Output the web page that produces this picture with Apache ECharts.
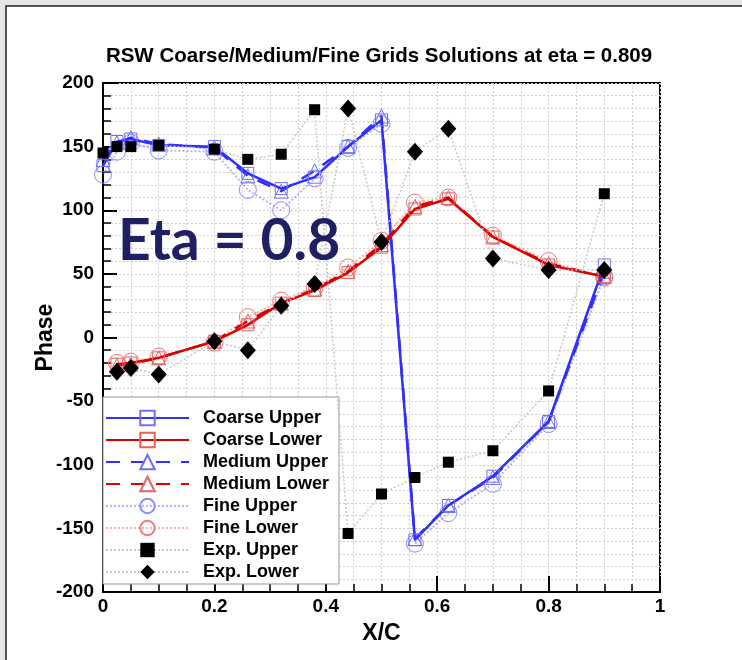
<!DOCTYPE html>
<html>
<head>
<meta charset="utf-8">
<script src="https://cdn.jsdelivr.net/npm/echarts@6/dist/echarts.min.js"></script>
<style>
  html, body { margin: 0; padding: 0; background: #e6e6e6; }
  #chart { width: 742px; height: 660px; }
</style>
</head>
<body>
<div id="chart"></div>
<script>
// Chordwise stations (X/C)
const xUpper = [0, 0.025, 0.05, 0.1, 0.2, 0.26, 0.32, 0.38, 0.44, 0.5, 0.56, 0.62, 0.7, 0.8, 0.9];
const xLower = [0.025, 0.05, 0.1, 0.2, 0.26, 0.32, 0.38, 0.44, 0.5, 0.56, 0.62, 0.7, 0.8, 0.9];

// Phase (deg) on upper / lower surfaces
const coarseUpper = [135, 154, 156, 151, 150, 129, 117, 126, 150, 171, -159, -132, -109, -66, 57];
const coarseLower = [-21, -20, -16, -3, 10, 27, 37, 51, 71, 101, 109, 79, 57, 48];
const mediumUpper = [140, 153, 157, 152, 149, 127, 115, 131, 150, 174, -158, -132, -110, -66, 52];
const mediumLower = [-22, -21, -16, -3, 13, 27, 38, 52, 73, 103, 110, 79, 58, 48];
const fineUpper = [128, 146, 153, 147, 146, 116, 100, 125, 149, 168, -162, -138, -115, -68, 48];
const fineLower = [-20, -19, -15, -4, 16, 29, 39, 55, 76, 106, 110, 80, 60, 47];
const expUpper = [145, 150, 150, 151, 148, 140, 144, 179, -154, -123, -110, -98, -89, -42, 113];
const expLower = [-27, -24, -29, -3, -10, 25, 42, 180, 75, 146, 164, 62, 53, 53];

const xTicks = [0, 0.2, 0.4, 0.6, 0.8, 1];
const yTicks = [-200, -150, -100, -50, 0, 50, 100, 150, 200];

const BLUE = '#2f2fff';
const RED = '#dd0000';
const FONT = '"Liberation Sans", Arial, Helvetica, sans-serif';

const pairs = (xs, ys) => xs.map((x, i) => [x, ys[i]]);

function solver(name, xs, ys, color, markColor, symbol, size, lineType, width, z) {
  return {
    name, type: 'line', data: pairs(xs, ys), z,
    symbol, symbolSize: size,
    lineStyle: { color, width, type: lineType },
    itemStyle: { color: 'rgba(255,255,255,0)', borderColor: markColor, borderWidth: 1 },
    emphasis: { disabled: true }
  };
}
function experiment(name, xs, ys, symbol, size) {
  return {
    name, type: 'line', data: pairs(xs, ys), z: 6,
    symbol, symbolSize: size,
    lineStyle: { color: '#c8c8c8', width: 1.5, type: [2, 2] },
    itemStyle: { color: '#000' },
    emphasis: { disabled: true }
  };
}

const chart = echarts.init(document.getElementById('chart'));
chart.setOption({
  animation: false,
  backgroundColor: '#e6e6e6',
  title: {
    text: 'RSW Coarse/Medium/Fine Grids Solutions at eta = 0.809',
    left: 374, top: 41, textAlign: 'center',
    textStyle: { fontFamily: FONT, fontSize: 20.5, fontWeight: 'bold', color: '#000' }
  },
  graphic: [
    { type: 'rect', z: -10, shape: { x: 6, y: 6, width: 800, height: 800 },
      style: { fill: '#fff', stroke: '#222', lineWidth: 1.5 } },
    { type: 'text', z: 100, left: 118, top: 213,
      style: { text: 'Eta = 0.8', fill: '#1f2063', font: 'bold 57px Lato, "Open Sans", sans-serif' } }
  ],
  grid: {
    left: 103, top: 83, right: 82, bottom: 68,
    show: true, borderColor: '#000', borderWidth: 2, backgroundColor: 'transparent'
  },
  legend: {
    orient: 'vertical', left: 103, top: 397,
    data: ['Coarse Upper', 'Coarse Lower', 'Medium Upper', 'Medium Lower',
           'Fine Upper', 'Fine Lower', 'Exp. Upper', 'Exp. Lower'],
    itemWidth: 83, itemHeight: 18, itemGap: 4,
    padding: [12, 10, 3, 2],
    backgroundColor: '#fff', borderColor: '#999', borderWidth: 1,
    selectedMode: false,
    textStyle: { fontFamily: FONT, fontSize: 18, fontWeight: 'bold', color: '#000',
                 padding: [0, 0, 0, 9] }
  },
  xAxis: {
    type: 'value', min: 0, max: 1, interval: 0.2,
    name: 'X/C', nameLocation: 'middle', nameGap: 30, nameMoveOverlap: false,
    nameTextStyle: { fontFamily: FONT, fontSize: 23, fontWeight: 'bold', color: '#000' },
    axisLine: { onZero: false, lineStyle: { color: '#000', width: 2 } },
    axisTick: { inside: true, length: 16, lineStyle: { color: '#000', width: 2 } },
    minorTick: { show: true, splitNumber: 4, length: 8, lineStyle: { color: '#000', width: 1.5 } },
    axisLabel: { fontFamily: FONT, fontSize: 19, fontWeight: 'bold', color: '#000', margin: 5,
                 formatter: v => xTicks.includes(v) ? String(v) : '' },
    splitLine: { lineStyle: { color: '#cfcfcf', type: [2, 2], width: 1 } },
    minorSplitLine: { show: true, lineStyle: { color: '#cfcfcf', type: [2, 2], width: 1 } }
  },
  yAxis: {
    type: 'value', min: -200, max: 200, interval: 50,
    name: 'Phase', nameLocation: 'middle', nameGap: 46, nameMoveOverlap: false,
    nameTextStyle: { fontFamily: FONT, fontSize: 23, fontWeight: 'bold', color: '#000' },
    axisLine: { onZero: false, lineStyle: { color: '#000', width: 2 } },
    axisTick: { inside: true, length: 14, lineStyle: { color: '#000', width: 2 } },
    minorTick: { show: true, splitNumber: 5, length: 8, lineStyle: { color: '#000', width: 1.5 } },
    axisLabel: { fontFamily: FONT, fontSize: 19, fontWeight: 'bold', color: '#000', margin: 9,
                 formatter: v => yTicks.includes(v) ? String(v) : '' },
    splitLine: { lineStyle: { color: '#cfcfcf', type: [2, 2], width: 1 } },
    minorSplitLine: { show: true, lineStyle: { color: '#cfcfcf', type: [2, 2], width: 1 } }
  },
  series: [
    solver('Coarse Upper', xUpper, coarseUpper, BLUE, '#6f6fff', 'rect', 12, 'solid', 2.5, 5),
    solver('Coarse Lower', xLower, coarseLower, RED, '#e86060', 'rect', 12, 'solid', 2.5, 5),
    solver('Medium Upper', xUpper, mediumUpper, BLUE, '#6f6fff', 'triangle', 14, [14, 11], 2.5, 4),
    solver('Medium Lower', xLower, mediumLower, RED, '#e86060', 'triangle', 14, [14, 11], 2.5, 4),
    solver('Fine Upper', xUpper, fineUpper, 'rgba(90,90,255,0.45)', '#8a8aff', 'circle', 17, [2, 2], 2, 3),
    solver('Fine Lower', xLower, fineLower, 'rgba(230,80,80,0.45)', '#ee7a7a', 'circle', 17, [2, 2], 2, 3),
    experiment('Exp. Upper', xUpper, expUpper, 'rect', 11),
    experiment('Exp. Lower', xLower, expLower, 'diamond', [16, 18])
  ]
});
</script>
</body>
</html>
